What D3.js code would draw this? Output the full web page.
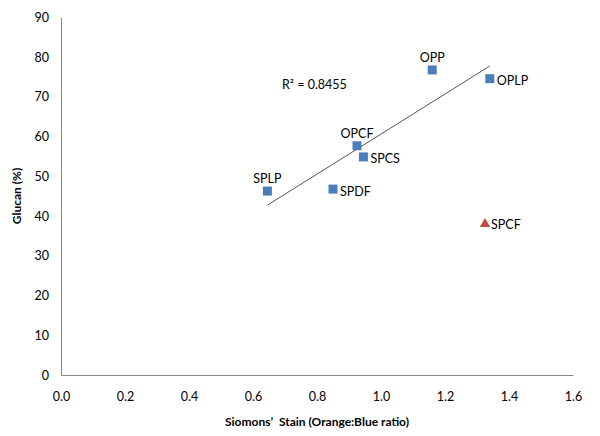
<!DOCTYPE html>
<html>
<head>
<meta charset="utf-8">
<script src="https://cdn.jsdelivr.net/npm/d3@7"></script>
<style>
  html, body { margin: 0; padding: 0; background: #fff; }
  svg text { font-family: Lato, "Liberation Sans", sans-serif; fill: #000; }
</style>
</head>
<body>
<svg id="chart" width="600" height="436"></svg>
<script>
// ---- data ----
const sampleNames = ["OPP", "OPLP", "OPCF", "SPCS", "SPLP", "SPDF"];
const stainRatio  = [1.16, 1.34, 0.925, 0.945, 0.645, 0.85];
const glucanPct   = [76.8, 74.6, 57.7, 54.9, 46.3, 46.8];
const outlierNames  = ["SPCF"];
const outlierRatio  = [1.325];
const outlierGlucan = [38.0];
const xTicks = [0, 0.2, 0.4, 0.6, 0.8, 1.0, 1.2, 1.4, 1.6];
const yTicks = [0, 10, 20, 30, 40, 50, 60, 70, 80, 90];
const r2Label = "R² = 0.8455";
const xTitle = "Siomons’  Stain (Orange:Blue ratio)";
const yTitle = "Glucan (%)";

// ---- layout ----
const svg = d3.select("#chart");
const x = d3.scaleLinear().domain([0, 1.6]).range([61, 573]);
const y = d3.scaleLinear().domain([0, 90]).range([375, 17.5]);
const axisColor = "#868686";

// axes
const gx = svg.append("g").attr("transform", `translate(0,${y(0)})`)
  .call(d3.axisBottom(x).tickValues(xTicks).tickFormat(d3.format(".1f")).tickSize(0).tickPadding(17));
const gy = svg.append("g").attr("transform", `translate(${x(0)},0)`)
  .call(d3.axisLeft(y).tickValues(yTicks).tickFormat(d3.format("d")).tickSize(0).tickPadding(12));
[gx, gy].forEach(g => {
  g.select(".domain").attr("stroke", axisColor).attr("stroke-width", 1);
  g.selectAll("text").attr("font-size", 12.5).attr("fill", "#222")
    .style("font-family", "Lato, 'Liberation Sans', sans-serif");
});

// titles
svg.append("text").attr("x", 317).attr("y", 426).attr("text-anchor", "middle")
  .attr("font-size", 12).attr("font-weight", "bold").style("white-space", "pre").text(xTitle);
svg.append("text").attr("transform", "translate(21,196) rotate(-90)").attr("text-anchor", "middle")
  .attr("font-size", 12).attr("font-weight", "bold").text(yTitle);

// trendline (least squares over the squares)
const pts = sampleNames.map((n, i) => ({ name: n, x: stainRatio[i], y: glucanPct[i] }));
const mx = d3.mean(pts, d => d.x), my = d3.mean(pts, d => d.y);
const sxy = d3.sum(pts, d => (d.x - mx) * (d.y - my));
const sxx = d3.sum(pts, d => (d.x - mx) ** 2);
const slope = sxy / sxx, icpt = my - slope * mx;
const [x0, x1] = d3.extent(pts, d => d.x);
svg.append("line")
  .attr("x1", x(x0)).attr("y1", y(icpt + slope * x0))
  .attr("x2", x(x1)).attr("y2", y(icpt + slope * x1))
  .attr("stroke", "#555").attr("stroke-width", 1);

svg.append("text").attr("x", 282).attr("y", 89).attr("font-size", 12.5).text(r2Label);

// squares
const s = 9;
svg.selectAll("rect.pt").data(pts).join("rect").attr("class", "pt")
  .attr("x", d => x(d.x) - s / 2).attr("y", d => y(d.y) - s / 2)
  .attr("width", s).attr("height", s).attr("fill", "#4a7ebb");

// labels
const labelPlacement = { OPP: "above", OPLP: "right", OPCF: "above", SPCS: "right", SPLP: "above", SPDF: "right", SPCF: "right" };
function addLabel(name, px, py) {
  const t = svg.append("text").attr("font-size", 12.5).text(name);
  if (labelPlacement[name] === "above") {
    t.attr("x", px).attr("y", py - 8).attr("text-anchor", "middle");
  } else {
    t.attr("x", px + 7).attr("y", py + 6.5).attr("text-anchor", "start");
  }
}
pts.forEach(d => addLabel(d.name, x(d.x), y(d.y)));

// outlier triangle
outlierNames.forEach((n, i) => {
  const px = x(outlierRatio[i]), py = y(outlierGlucan[i]);
  svg.append("path")
    .attr("d", d3.symbol().type(d3.symbolTriangle).size(48)())
    .attr("transform", `translate(${px},${py})`)
    .attr("fill", "#be4b48");
  addLabel(n, px - 1, py - 1.5);
});
</script>
</body>
</html>
